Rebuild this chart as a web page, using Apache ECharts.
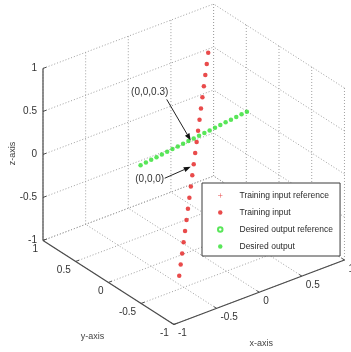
<!DOCTYPE html>
<html>
<head>
<meta charset="utf-8">
<script src="https://cdn.jsdelivr.net/npm/echarts@6/dist/echarts.min.js"></script>
<style>
  html, body { margin: 0; padding: 0; background: #fff; }
  #chart { width: 351px; height: 352px; }
</style>
</head>
<body>
<div id="chart"></div>
<script>
// Tick values shared by the x, y and z axes
const tickValues = [-1, -0.5, 0, 0.5, 1];
const tickLabels = ['-1', '-0.5', '0', '0.5', '1'];
const axisNames = ['x-axis', 'y-axis', 'z-axis'];

// Training input samples
const trainX = [-0.4, -0.36, -0.32, -0.28, -0.24, -0.2, -0.16, -0.12, -0.08, -0.04, 0,
                0.04, 0.08, 0.12, 0.16, 0.2, 0.24, 0.28, 0.32, 0.36, 0.4];
const trainY = [-0.3, -0.27, -0.24, -0.21, -0.18, -0.15, -0.12, -0.09, -0.06, -0.03, 0,
                0.03, 0.06, 0.09, 0.12, 0.15, 0.18, 0.21, 0.24, 0.27, 0.3];
const trainZ = [-1, -0.9, -0.8, -0.7, -0.6, -0.5, -0.4, -0.3, -0.2, -0.1, 0,
                0.1, 0.2, 0.3, 0.4, 0.5, 0.6, 0.7, 0.8, 0.9, 1];

// Desired output samples
const outX = [-0.7, -0.63, -0.56, -0.49, -0.42, -0.35, -0.28, -0.21, -0.14, -0.07, 0,
              0.07, 0.14, 0.21, 0.28, 0.35, 0.42, 0.49, 0.56, 0.63, 0.7];
const outY = [-0.1, -0.09, -0.08, -0.07, -0.06, -0.05, -0.04, -0.03, -0.02, -0.01, 0,
              0.01, 0.02, 0.03, 0.04, 0.05, 0.06, 0.07, 0.08, 0.09, 0.1];
const outZ = [0.3, 0.3, 0.3, 0.3, 0.3, 0.3, 0.3, 0.3, 0.3, 0.3, 0.3,
              0.3, 0.3, 0.3, 0.3, 0.3, 0.3, 0.3, 0.3, 0.3, 0.3];

const legendNames = ['Training input reference', 'Training input',
                     'Desired output reference', 'Desired output'];

// Annotated points
const annotationTexts = ['(0,0,0.3)', '(0,0,0)'];
const annotationPoints = [[0, 0, 0.3], [0, 0, 0]];

// ---- view: orthographic projection, azimuth -37.5 deg, elevation ~30 deg ----
const AZ = 37.5 * Math.PI / 180;
const EL = 29.5 * Math.PI / 180;
const KZ = 0.8;           // vertical stretch of the z direction
const SCALE = 107.5;      // pixels per projected unit
const CA = Math.cos(AZ), SA = Math.sin(AZ), SE = Math.sin(EL);

function project(x, y, z) {
  return [x * CA - y * SA, (x * SA + y * CA) * SE + z * KZ];
}
const U = CA + SA;
const V = U * SE + KZ;

const FONT = 'Liberation Sans, Arial, Helvetica, sans-serif';

// ---- box geometry built from the ticks ----
const gridSegs = [];
tickValues.forEach(t => {
  gridSegs.push([t, -1, -1, t, 1, -1]);   // floor, constant x
  gridSegs.push([-1, t, -1, 1, t, -1]);   // floor, constant y
  gridSegs.push([t, 1, -1, t, 1, 1]);     // wall y = 1, vertical
  gridSegs.push([-1, 1, t, 1, 1, t]);     // wall y = 1, horizontal
  gridSegs.push([1, t, -1, 1, t, 1]);     // wall x = 1, vertical
  gridSegs.push([1, -1, t, 1, 1, t]);     // wall x = 1, horizontal
});
const axisSegs = [
  [-1, -1, -1, 1, -1, -1],
  [-1, 1, -1, -1, -1, -1],
  [-1, 1, -1, -1, 1, 1]
];
const TL = 0.04;
const tickSegs = [];
tickValues.forEach(t => {
  tickSegs.push([t, -1, -1, t, -1 + TL, -1]);
  tickSegs.push([-1, t, -1, -1 + TL, t, -1]);
  tickSegs.push([-1, 1, t, -1 + TL, 1, t]);
});
const tickLabelData = [];
tickValues.forEach((t, i) => {
  tickLabelData.push([t, -1, -1, i, 0]);
  tickLabelData.push([-1, t, -1, i, 1]);
  tickLabelData.push([-1, 1, t, i, 2]);
});
const tickLabelLayout = [
  { dx: 4, dy: 9, align: 'left' },
  { dx: -5, dy: 9, align: 'right' },
  { dx: -6, dy: 0, align: 'right' }
];
const axisNameData = [[0, -1, -1, 0], [-1, 0, -1, 1], [-1, 1, 0, 2]];
const axisNameLayout = [
  { dx: 2, dy: 51, rot: 0 },
  { dx: -16, dy: 54, rot: 0 },
  { dx: -30, dy: -1, rot: Math.PI / 2 }
];
const annotationData = annotationPoints.map((p, i) => [p[0], p[1], p[2], i]);
const annotationLayout = [
  { tx: -44, ty: -46, sx: -27, sy: -39, ex: -3, ey: 2 },
  { tx: -44, ty: 15, sx: -29, sy: 14, ex: -3, ey: 2.5 }
];

function segmentSeries(segs, style) {
  return {
    type: 'custom', silent: true, coordinateSystem: 'cartesian2d', z: 1,
    data: segs,
    renderItem: (params, api) => {
      const a = api.coord(project(api.value(0), api.value(1), api.value(2)));
      const b = api.coord(project(api.value(3), api.value(4), api.value(5)));
      return { type: 'line', shape: { x1: a[0], y1: a[1], x2: b[0], y2: b[1] }, style: style };
    }
  };
}

const plusIcon = 'path://M4,0H5V4H9V5H5V9H4V5H0V4H4Z';
const RED = '#e41e1e';
const GREEN = '#2fe02f';

const option = {
  animation: false,
  backgroundColor: '#fff',
  grid: { left: 43, top: 4, width: 2 * U * SCALE, height: 2 * V * SCALE },
  xAxis: { type: 'value', min: -U, max: U, show: false },
  yAxis: { type: 'value', min: -V, max: V, show: false },
  legend: {
    orient: 'vertical', left: 202, top: 183,
    padding: [7, 7, 4, 15], itemGap: 6, itemWidth: 4.5, itemHeight: 4.5,
    backgroundColor: '#fff', borderColor: '#3a3a3a', borderWidth: 1,
    selectedMode: false,
    textStyle: { fontSize: 8.5, fontFamily: FONT, color: '#2a2a2a', lineHeight: 11, padding: [0, 0, 0, 12] },
    data: [
      { name: legendNames[0], icon: plusIcon, itemStyle: { color: RED } },
      { name: legendNames[1], icon: 'circle', itemStyle: { color: RED } },
      { name: legendNames[2], icon: 'emptyCircle',
        itemStyle: { color: GREEN, borderColor: GREEN, borderWidth: 0.8 } },
      { name: legendNames[3], icon: 'circle', itemStyle: { color: GREEN } }
    ]
  },
  series: [
    segmentSeries(gridSegs, { stroke: '#a0a0a0', lineWidth: 1, lineDash: [1, 2] }),
    segmentSeries(axisSegs, { stroke: '#4a4a4a', lineWidth: 1.2 }),
    segmentSeries(tickSegs, { stroke: '#4a4a4a', lineWidth: 1 }),
    {
      type: 'custom', silent: true, coordinateSystem: 'cartesian2d', z: 3,
      data: tickLabelData,
      renderItem: (params, api) => {
        const p = api.coord(project(api.value(0), api.value(1), api.value(2)));
        const lay = tickLabelLayout[api.value(4)];
        return {
          type: 'text', x: p[0] + lay.dx, y: p[1] + lay.dy,
          style: { text: tickLabels[api.value(3)], fill: '#333', font: '10px ' + FONT,
                   align: lay.align, verticalAlign: 'middle' }
        };
      }
    },
    {
      type: 'custom', silent: true, coordinateSystem: 'cartesian2d', z: 3,
      data: axisNameData,
      renderItem: (params, api) => {
        const p = api.coord(project(api.value(0), api.value(1), api.value(2)));
        const lay = axisNameLayout[api.value(3)];
        return {
          type: 'text', x: p[0] + lay.dx, y: p[1] + lay.dy, rotation: lay.rot,
          style: { text: axisNames[api.value(3)], fill: '#444', font: '9px ' + FONT,
                   align: 'center', verticalAlign: 'middle' }
        };
      }
    },
    {
      name: legendNames[0], type: 'scatter', data: [], symbol: plusIcon, itemStyle: { color: RED }
    },
    {
      name: legendNames[1], type: 'scatter', z: 4,
      symbol: 'circle', symbolSize: 4.5, itemStyle: { color: RED },
      data: trainX.map((x, i) => project(x, trainY[i], trainZ[i]))
    },
    {
      name: legendNames[2], type: 'scatter', data: [], symbol: 'emptyCircle', itemStyle: { color: GREEN }
    },
    {
      name: legendNames[3], type: 'scatter', z: 5,
      symbol: 'circle', symbolSize: 4.5, itemStyle: { color: GREEN },
      data: outX.map((x, i) => project(x, outY[i], outZ[i]))
    },
    {
      type: 'custom', silent: true, coordinateSystem: 'cartesian2d', z: 6,
      data: annotationData,
      renderItem: (params, api) => {
        const p = api.coord(project(api.value(0), api.value(1), api.value(2)));
        const lay = annotationLayout[api.value(3)];
        const sx = p[0] + lay.sx, sy = p[1] + lay.sy;
        const ex = p[0] + lay.ex, ey = p[1] + lay.ey;
        const ang = Math.atan2(ey - sy, ex - sx);
        const hl = 7, hw = 2.6;
        const bx = ex - hl * Math.cos(ang), by = ey - hl * Math.sin(ang);
        const nx = -Math.sin(ang) * hw, ny = Math.cos(ang) * hw;
        return {
          type: 'group',
          children: [
            { type: 'line', shape: { x1: sx, y1: sy, x2: bx, y2: by },
              style: { stroke: '#222', lineWidth: 1 } },
            { type: 'polygon', shape: { points: [[ex, ey], [bx + nx, by + ny], [bx - nx, by - ny]] },
              style: { fill: '#111' } },
            { type: 'text', x: p[0] + lay.tx, y: p[1] + lay.ty,
              style: { text: annotationTexts[api.value(3)], fill: '#333', font: '10px ' + FONT,
                       align: 'center', verticalAlign: 'middle' } }
          ]
        };
      }
    }
  ]
};

const chart = echarts.init(document.getElementById('chart'));
chart.setOption(option);
</script>
</body>
</html>
